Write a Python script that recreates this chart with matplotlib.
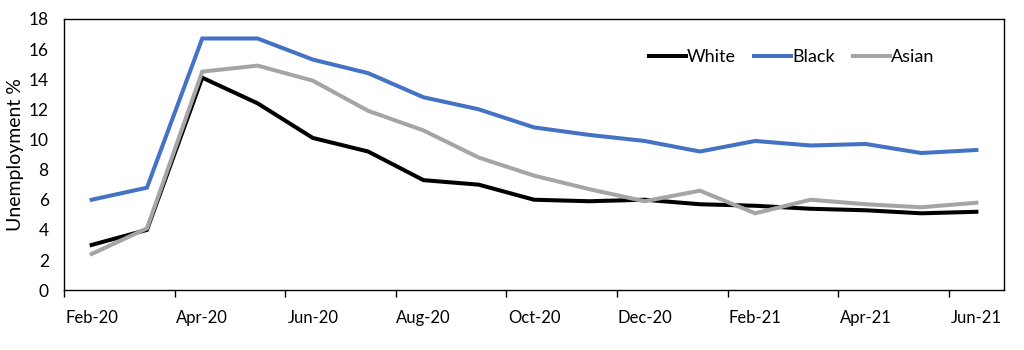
import matplotlib
matplotlib.use("Agg")
import matplotlib.pyplot as plt

months = ["Feb-20", "Mar-20", "Apr-20", "May-20", "Jun-20", "Jul-20", "Aug-20", "Sep-20",
          "Oct-20", "Nov-20", "Dec-20", "Jan-21", "Feb-21", "Mar-21", "Apr-21", "May-21", "Jun-21"]
white = [3.0, 4.0, 14.1, 12.4, 10.1, 9.2, 7.3, 7.0, 6.0, 5.9, 6.0, 5.7, 5.6, 5.4, 5.3, 5.1, 5.2]
black = [6.0, 6.8, 16.7, 16.7, 15.3, 14.4, 12.8, 12.0, 10.8, 10.3, 9.9, 9.2, 9.9, 9.6, 9.7, 9.1, 9.3]
asian = [2.4, 4.1, 14.5, 14.9, 13.9, 11.9, 10.6, 8.8, 7.6, 6.7, 5.9, 6.6, 5.1, 6.0, 5.7, 5.5, 5.8]

plt.rcParams['font.family'] = ['Lato', 'DejaVu Sans']

fig = plt.figure(figsize=(10.24, 3.5), dpi=100)
ax = fig.add_axes([0.0625, 0.171, 0.918, 0.775])

x = list(range(len(months)))
ax.plot(x, white, color='black', lw=2.9, label='White', solid_joinstyle='miter')
ax.plot(x, black, color='#4472C4', lw=2.9, label='Black', solid_joinstyle='miter')
ax.plot(x, asian, color='#A5A5A5', lw=2.9, label='Asian', solid_joinstyle='miter')

ax.set_xlim(-0.5, len(months) - 0.5)
ax.set_ylim(0, 18)
ax.set_yticks(range(0, 19, 2))
ax.tick_params(axis='y', length=0, labelsize=12.5, pad=11)

label_pos = x[::2]
ax.set_xticks(label_pos)
ax.set_xticklabels(months[::2], fontsize=12)
ax.tick_params(axis='x', which='major', length=0, pad=14)
ax.set_xticks([p - 0.5 for p in label_pos], minor=True)
ax.tick_params(axis='x', which='minor', length=5, width=1, direction='out')

for s in ax.spines.values():
    s.set_linewidth(1.0)
    s.set_color('black')

ax.set_ylabel('Unemployment %', fontsize=14, labelpad=3)

leg = ax.legend(loc='center', bbox_to_anchor=(0.774, 0.86), ncol=3, frameon=False,
                fontsize=13, handlelength=2.05, handletextpad=0.05, columnspacing=1.0,
                borderpad=0, borderaxespad=0)

fig.savefig('out.png', dpi=100)
